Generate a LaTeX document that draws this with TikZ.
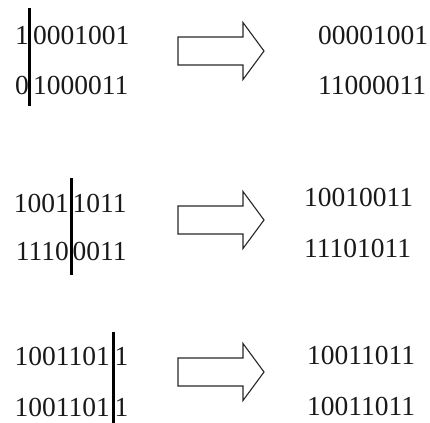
\documentclass[tikz,border=0pt]{standalone}
\usepackage{fontspec}
\setmainfont{Liberation Serif}
\tikzset{
  bits/.style={inner sep=0pt, font=\fontsize{27.5bp}{32bp}\selectfont, text=black!90},
  lbits/.style={bits, anchor=base east},
  rbits/.style={bits, anchor=base west},
  splitbar/.style={line width=3bp, black},
  blockarrow/.style={draw=black!85, line width=1.1bp, line join=miter}
}
\newcommand{\blockarr}[3]{% x0, y (centre), name
  \begin{scope}[shift={(#1,#2)}]
  \coordinate (#3s) at (0,0);
  \coordinate (#3t) at (86,0);
  \draw[blockarrow] (0,-14) -- (65,-14) -- (65,-28.5) -- (#3t) -- (65,28.5) -- (65,14) -- (0,14) -- cycle;
  \end{scope}
}
\begin{document}
\begin{tikzpicture}[x=1bp,y=-1bp]
\useasboundingbox (0,0) rectangle (430,423);
% ---- row 1
\draw[splitbar] (29,8) coordinate (b1t) -- (29,106) coordinate (b1b);
\node[lbits] (a1l) at (29,44.3) {1};
\node[rbits] (a1r) at (33,44.3) {0001001};
\node[lbits] (a2l) at (29,94.3) {0};
\node[rbits] (a2r) at (33,94.3) {1000011};
\blockarr{178}{51}{ar1}
\node[rbits] (r1a) at (318,44.3) {00001001};
\node[rbits] (r1b) at (318,94.3) {11000011};
% ---- row 2
\draw[splitbar] (71,178) coordinate (b2t) -- (71,275) coordinate (b2b);
\node[lbits] (c1l) at (69,212.3) {1001};
\node[rbits] (c1r) at (72.5,212.3) {1011};
\node[lbits] (c2l) at (69,260.3) {1110};
\node[rbits] (c2r) at (72.5,260.3) {0011};
\blockarr{178}{220}{ar2}
\node[rbits] (r2a) at (304,206.3) {10010011};
\node[rbits] (r2b) at (304,257.3) {11101011};
% ---- row 3
\draw[splitbar] (113,332) coordinate (b3t) -- (113,423) coordinate (b3b);
\node[lbits] (d1l) at (110,365.3) {1001101};
\node[rbits] (d1r) at (114.5,365.3) {1};
\node[lbits] (d2l) at (110,416.3) {1001101};
\node[rbits] (d2r) at (114.5,416.3) {1};
\blockarr{178}{372}{ar3}
\node[rbits] (r3a) at (307,364.3) {10011011};
\node[rbits] (r3b) at (307,415.3) {10011011};
\end{tikzpicture}
\end{document}
